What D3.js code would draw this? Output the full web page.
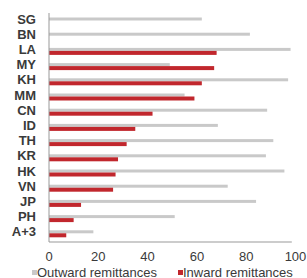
<!DOCTYPE html>
<html lang="en">
<head>
<meta charset="UTF-8">
<title>remittances</title>
<script src="https://cdn.jsdelivr.net/npm/d3@7"></script>
<style>
    body{ margin:0; background:#fff; }
    text{ font-family: "Liberation Sans", Arial, sans-serif; fill:#3a3a3a; }
</style>
</head>
<body>
<svg id="main" width="307" height="278"></svg>
<script>
    // values (percent)
    let countries = ["SG","BN","LA","MY","KH","MM","CN","ID","TH","KR","HK","VN","JP","PH","A+3"]
    let outward = [62, 81.5, 98, 49, 97, 55, 88.5, 68.5, 91, 88, 95.5, 72.5, 84, 51, 18]
    let inward  = [0, 0, 68, 67, 62, 59, 42, 35, 31.5, 28, 27, 26, 13, 10, 7]
    let xTicks = [0, 20, 40, 60, 80, 100]

    let svg = d3.select("#main")
    let x = d3.scaleLinear().domain([0,100]).range([49, 295.5])
    let y = d3.scaleBand().domain(countries).range([11, 239])

    // outward (grey)
    svg.append("g").selectAll("rect")
        .data(countries)
        .enter().append("rect")
        .attr("x", x(0))
        .attr("y", d => y(d) + 6.5)
        .attr("height", 3)
        .attr("width", (d,i) => x(outward[i]) - x(0))
        .attr("fill", "#c9c9c9")

    // inward (red)
    svg.append("g").selectAll("rect")
        .data(countries)
        .enter().append("rect")
        .attr("x", x(0))
        .attr("y", d => y(d) + 9.5)
        .attr("height", 4)
        .attr("width", (d,i) => x(inward[i]) - x(0))
        .attr("fill", "#c1272d")

    // axes lines
    svg.append("line")
        .attr("x1", x(0)).attr("x2", x(0))
        .attr("y1", 13).attr("y2", 242)
        .attr("stroke", "#999").attr("stroke-width", 1)
    svg.append("line")
        .attr("x1", x(0)).attr("x2", x(98.5))
        .attr("y1", 242).attr("y2", 242)
        .attr("stroke", "#999").attr("stroke-width", 1)

    // category labels
    svg.append("g").selectAll("text")
        .data(countries)
        .enter().append("text")
        .attr("x", 36)
        .attr("y", d => y(d) + 8)
        .attr("dy", "0.35em")
        .attr("text-anchor", "end")
        .attr("font-size", 13)
        .attr("font-weight", "bold")
        .text(d => d)

    // x tick labels
    svg.append("g").selectAll("text")
        .data(xTicks)
        .enter().append("text")
        .attr("x", d => x(d))
        .attr("y", 261)
        .attr("text-anchor", "middle")
        .attr("font-size", 13)
        .text(d => d)

    // legend
    let legend = [["Outward remittances", "#c9c9c9", 32], ["Inward remittances", "#c1272d", 178]]
    legend.forEach(function (l){
        svg.append("rect")
            .attr("x", l[2]).attr("y", 270)
            .attr("width", 5).attr("height", 5)
            .attr("fill", l[1])
        svg.append("text")
            .attr("x", l[2] + 5).attr("y", 276.5)
            .attr("font-size", 13)
            .text(l[0])
    })
</script>
</body>
</html>
